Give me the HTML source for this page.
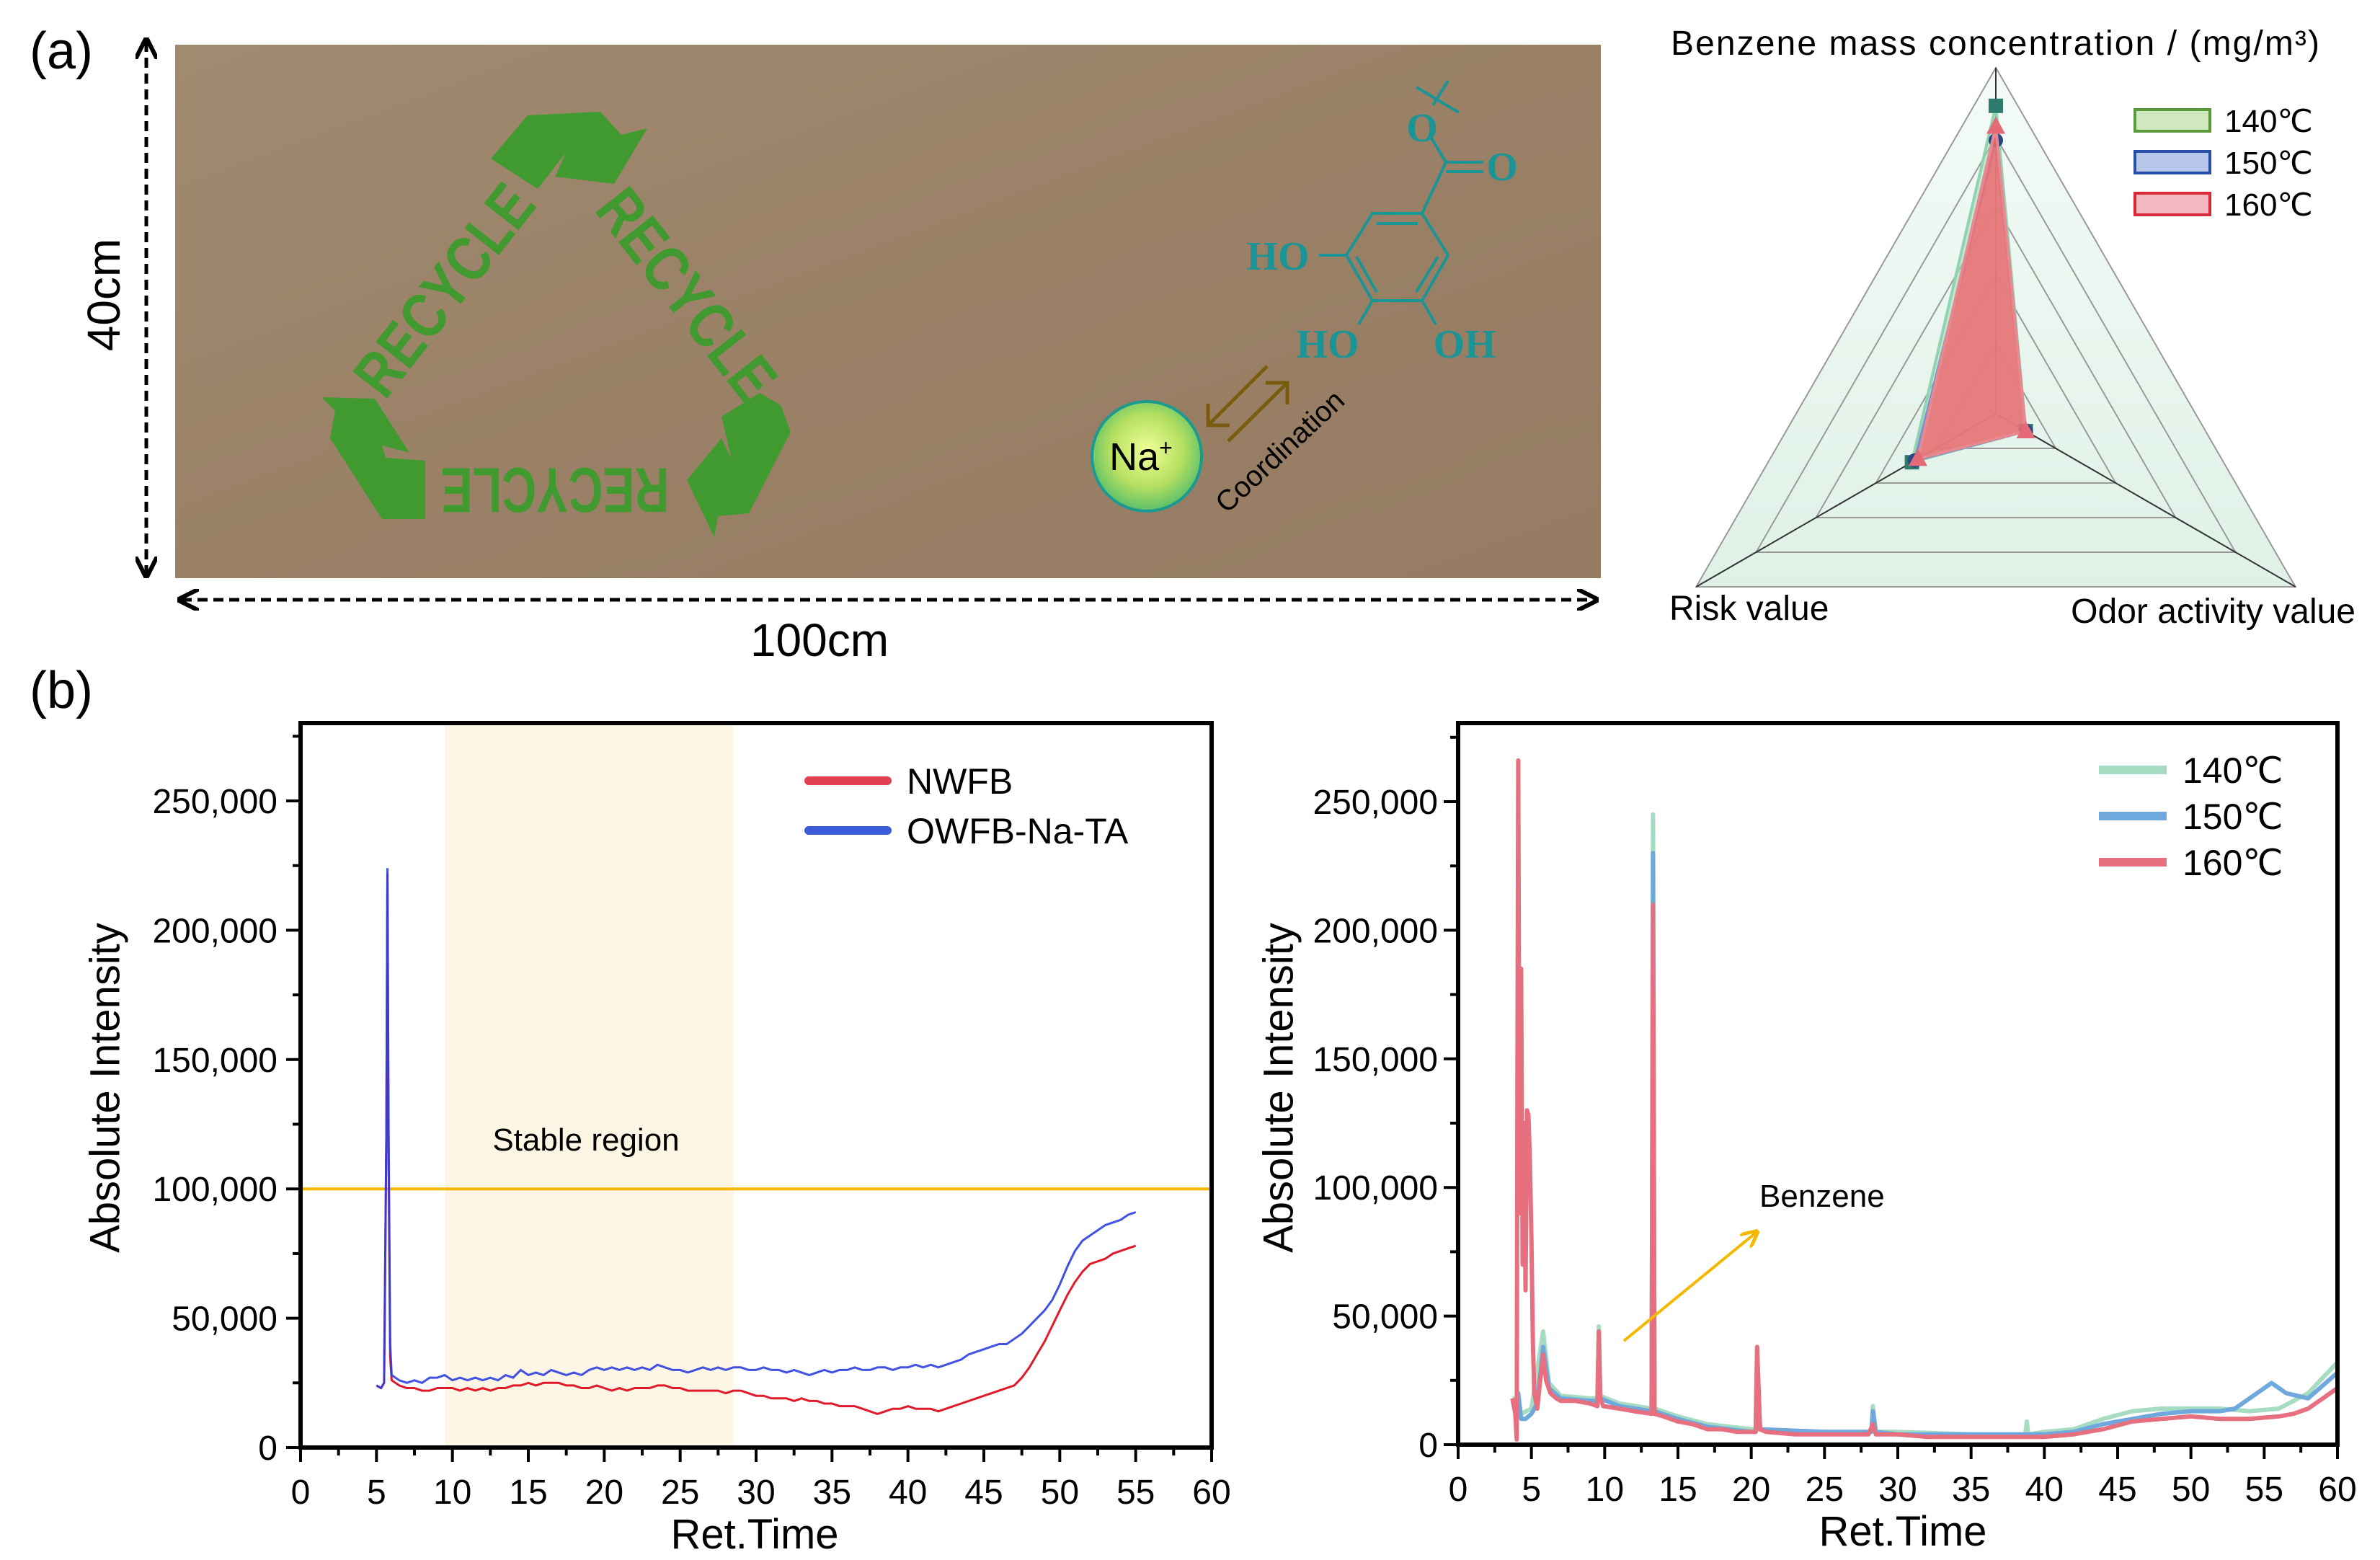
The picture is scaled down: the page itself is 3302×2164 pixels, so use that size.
<!DOCTYPE html>
<html><head><meta charset="utf-8"><title>Figure</title>
<style>
html,body{margin:0;padding:0;background:#fff;}
svg{display:block;font-family:"Liberation Sans",Arial,sans-serif;}
</style></head>
<body>
<svg id="fig" xmlns="http://www.w3.org/2000/svg" width="3302" height="2164" viewBox="0 0 3302 2164">
<defs>
<linearGradient id="paper" x1="0" y1="0" x2="1" y2="1">
<stop offset="0" stop-color="#a08a70"/><stop offset="0.5" stop-color="#9a8166"/><stop offset="1" stop-color="#957c62"/>
</linearGradient>
<radialGradient id="na" cx="0.5" cy="0.45" r="0.55">
<stop offset="0" stop-color="#f2ff9a"/><stop offset="0.6" stop-color="#b5e060"/><stop offset="1" stop-color="#5bbf6a"/>
</radialGradient>
<linearGradient id="radarbg" x1="0" y1="0" x2="0" y2="1">
<stop offset="0" stop-color="#f4fbf7"/><stop offset="1" stop-color="#dff1e7"/>
</linearGradient>
<marker id="ah" viewBox="0 0 10 10" refX="8" refY="5" markerWidth="6" markerHeight="6" orient="auto-start-reverse">
<path d="M0,0 L10,5 L0,10" fill="none" stroke="#000" stroke-width="2"/></marker>
<marker id="ahy" viewBox="0 0 10 10" refX="8" refY="5" markerWidth="6" markerHeight="6" orient="auto">
<path d="M0,0 L10,5 L0,10" fill="none" stroke="#f5b800" stroke-width="2"/></marker>
</defs>

<text x="85" y="95" font-size="72" text-anchor="middle">(a)</text>
<text x="85" y="982" font-size="72" text-anchor="middle">(b)</text>

<g>
<rect x="243" y="62" width="1978" height="740" fill="url(#paper)"/>
<g fill="#409a30">
<polygon points="681,220 732,160 833,155 862,187 898,178 852,255 770,245 785,212 746,262"/>
<polygon points="446,551 520,553 568,628 530,618 535,635 590,639 590,720 530,720 458,608 465,570"/>
<polygon points="1001,578 1054,545 1083,562 1097,599 1039,712 996,716 991,745 953,666 1001,608 1015,637"/>
<text x="616" y="402" font-size="88" font-weight="bold" text-anchor="middle" dominant-baseline="central" textLength="344" lengthAdjust="spacingAndGlyphs" transform="rotate(-52 616 402)">RECYCLE</text>
<text x="953" y="408" font-size="88" font-weight="bold" text-anchor="middle" dominant-baseline="central" textLength="344" lengthAdjust="spacingAndGlyphs" transform="rotate(52 953 408)">RECYCLE</text>
<text x="770" y="680" font-size="88" font-weight="bold" text-anchor="middle" dominant-baseline="central" textLength="317" lengthAdjust="spacingAndGlyphs" transform="rotate(180 770 680)">RECYCLE</text>
</g>
<g stroke="#1a9494" stroke-width="4" fill="none">
<polygon points="1904,296 1973,296 2009,354 1973,417 1904,417 1868,354"/>
<line x1="1910" y1="310" x2="1967" y2="310"/>
<line x1="1995" y1="356" x2="1965" y2="405"/>
<line x1="1882" y1="356" x2="1910" y2="405"/>
<line x1="1973" y1="296" x2="2006" y2="225"/>
<line x1="2006" y1="225" x2="2058" y2="225"/><line x1="2006" y1="238" x2="2058" y2="238"/>
<line x1="2006" y1="225" x2="1985" y2="190"/>
<line x1="1868" y1="354" x2="1830" y2="354"/>
<line x1="1904" y1="417" x2="1885" y2="450"/>
<line x1="1973" y1="417" x2="1992" y2="450"/>
<line x1="1988" y1="146" x2="2009" y2="112"/><line x1="1965" y1="121" x2="2024" y2="156"/>
</g>
<g fill="#1a9494" font-family="'Liberation Serif',serif" font-weight="bold" font-size="56">
<text x="1773" y="374" text-anchor="middle">HO</text>
<text x="1842" y="496" text-anchor="middle">HO</text>
<text x="2032" y="496" text-anchor="middle">OH</text>
<text x="2084" y="250" text-anchor="middle">O</text>
<text x="1973" y="196" text-anchor="middle">O</text>
</g>
<g stroke="#7a5c10" stroke-width="5" fill="none">
<polyline points="1758,508 1676,590"/><polyline points="1676,560 1676,590 1706,590"/>
<polyline points="1704,612 1786,531"/><polyline points="1756,531 1786,531 1786,561"/>
</g>
<text x="1785" y="636" font-size="40" text-anchor="middle" transform="rotate(-43 1785 636)">Coordination</text>
<circle cx="1591" cy="633" r="76" fill="url(#na)" stroke="#1a9a90" stroke-width="4"/>
<text x="1583" y="652" font-size="54" text-anchor="middle">Na<tspan font-size="32" dy="-20">+</tspan></text>
</g>
<line x1="203" y1="58" x2="203" y2="796" stroke="#000" stroke-width="5" stroke-dasharray="14,8" marker-start="url(#ah)" marker-end="url(#ah)"/>
<line x1="252" y1="832" x2="2212" y2="832" stroke="#000" stroke-width="5" stroke-dasharray="14,8" marker-start="url(#ah)" marker-end="url(#ah)"/>
<text x="144" y="409" font-size="64" text-anchor="middle" dominant-baseline="central" transform="rotate(-90 144 409)">40cm</text>
<text x="1137" y="910" font-size="64" text-anchor="middle">100cm</text>

<g id="radar"></g>
<g id="left"></g>
<g id="right"></g>
</svg>

<script>
// ---------- radar data ----------
const radarAxes = ["Benzene mass concentration / (mg/m\u00B3)", "Risk value", "Odor activity value"];
const radarSeriesNames = ["140\u2103", "150\u2103", "160\u2103"];
const radar140 = [0.89, 0.28, 0.10];
const radar150 = [0.79, 0.27, 0.10];
const radar160 = [0.83, 0.26, 0.10];

// ---------- left chromatogram data (values in thousands) ----------
const leftSeriesNames = ["NWFB", "OWFB-Na-TA"];
const leftTimePrefix = [5, 5.3, 5.5, 5.65, 5.72, 5.8, 5.9];
const nwfbPrefix = [24, 23, 25, 120, 222, 110, 35];
const owfbPrefix = [24, 23, 25, 120, 224, 120, 40];
const nwfb = [26,24,23,23,22,22,23,23,23,22, 23,22,23,22,23,23,24,24,25,24, 25,25,25,24,24,23,23,24,23,22,
 23,22,23,23,23,24,24,23,23,22, 22,22,22,22,21,22,22,21,20,20, 19,19,19,18,19,18,18,17,17,16,
 16,16,15,14,13,14,15,15,16,15, 15,15,14,15,16,17,18,19,20,21, 22,23,24,27,31,36,41,47,53,59,
 64,68,71,72,73,75,76,77,78];
const owfb = [28,26,25,26,25,27,27,28,26,27, 26,27,26,27,26,28,27,30,28,29, 28,30,29,28,29,28,30,31,30,31,
 30,31,30,31,30,32,31,30,30,29, 30,31,30,31,30,31,31,30,30,31, 30,30,29,30,29,28,29,30,29,30,
 30,31,30,30,31,31,30,31,31,32, 31,32,31,32,33,34,36,37,38,39, 40,40,42,44,47,50,53,57,63,70,
 76,80,82,84,86,87,88,90,91];
const stableRegion = [9.5, 28.5];
const thresholdLine = 100;
const xTickLabels = ["0","5","10","15","20","25","30","35","40","45","50","55","60"];
const yTickLabels = ["0","50,000","100,000","150,000","200,000","250,000"];

// ---------- right chromatogram data ([time, thousands]) ----------
const rightSeriesNames = ["140\u2103", "150\u2103", "160\u2103"];
const s140 = [[3.7,18],[4.1,18],[4.3,12],[5.0,14],[5.8,44],[6.2,24],[7,19],[9,18],[9.5,18],[9.6,46],[9.7,19],[11,16],[13.2,14],[13.3,245],[13.4,14],[15,11],[17,8],[20,6],[25,5],[28.2,5],[28.3,15],[28.5,5],[30,5],[35,4],[38.7,4],[38.8,9],[38.9,4],[40,5],[42,6],[44,10],[46,13],[48,14],[50,14],[52,14],[54,13],[56,14],[58,20],[60,32]];
const s150 = [[3.7,17],[4.0,14],[4.1,20],[4.3,10],[4.6,10],[5.0,12],[5.4,16],[5.8,38],[6.2,22],[7,18],[9,17],[9.5,17],[9.6,44],[9.7,18],[11,15],[13.2,13],[13.3,230],[13.4,13],[15,10],[17,7],[20,5],[20.3,5],[20.4,36],[20.6,6],[25,5],[28.2,5],[28.3,13],[28.5,5],[30,4],[35,4],[40,4],[42,5],[44,8],[46,10],[48,12],[50,13],[52,13],[53,14],[54,18],[55.5,24],[56.5,20],[58,18],[60,28]];
const s160 = [[3.7,18],[3.9,12],[4.0,2],[4.05,150],[4.1,266],[4.2,90],[4.3,185],[4.4,70],[4.5,125],[4.6,60],[4.7,130],[4.8,128],[4.9,110],[5.0,80],[5.1,40],[5.2,20],[5.4,14],[5.6,25],[5.8,35],[6.0,25],[6.3,20],[6.7,18],[7,17],[8,17],[9,16],[9.5,15],[9.6,44],[9.7,18],[9.9,15],[11,14],[12,13],[13.2,12],[13.3,210],[13.4,12],[14,11],[15,9],[16,8],[17,6],[18,6],[19,5],[20,5],[20.3,5],[20.4,38],[20.6,6],[21,5],[23,4],[25,4],[28,4],[28.3,8],[28.5,4],[30,4],[32,3],[35,3],[38,3],[40,3],[42,4],[44,6],[46,9],[48,10],[50,11],[52,10],[54,10],[56,11],[57,12],[58,14],[59,18],[60,22]];

const NS = "http://www.w3.org/2000/svg";
function mk(parent, tag, attrs, text) {
  const e = document.createElementNS(NS, tag);
  for (const k in attrs) e.setAttribute(k, attrs[k]);
  if (text !== undefined) e.textContent = text;
  parent.appendChild(e);
  return e;
}

// ---------- radar ----------
(function () {
  const g = document.getElementById('radar');
  const cx = 2769, cy = 574, R = 480;
  const ang = [-90, 150, 30].map(a => a * Math.PI / 180);
  const pt = (i, v) => [cx + R * v * Math.cos(ang[i]), cy + R * v * Math.sin(ang[i])];
  const tri = v => [0, 1, 2].map(i => pt(i, v).join(',')).join(' ');
  let e = mk(g, 'polygon', { points: tri(1), fill: 'url(#radarbg)', stroke: '#999', 'stroke-width': 2 });
  
  
  for (let k = 1; k <= 4; k++) {
    e = mk(g, 'polygon', { points: tri(k / 5), fill: 'none', stroke: '#9a9a9a', 'stroke-width': 2 });
    
    
  }
  for (let i = 0; i < 3; i++) {
    const p = pt(i, 1);
    e = mk(g, 'line', { x1: cx, y1: cy, x2: p[0], y2: p[1], stroke: '#333', 'stroke-width': 2 });
    
    
  }
  const series = [
    { d: radar140, fill: 'rgba(160,220,190,0.55)', stroke: '#8fd3b2', mfill: '#2f7b6c', shape: 'sq' },
    { d: radar150, fill: 'rgba(150,170,220,0.4)', stroke: '#7c8fd0', mfill: '#244a86', shape: 'ci' },
    { d: radar160, fill: 'rgba(240,110,112,0.85)', stroke: '#e68a90', mfill: '#e56a78', shape: 'tr' }
  ];
  series.forEach((s, si) => {
    const pts = s.d.map((v, i) => pt(i, v));
    e = mk(g, 'polygon', { points: pts.map(p => p.join(',')).join(' '), fill: s.fill, stroke: s.stroke, 'stroke-width': 4 });
    
    
    pts.forEach(p => {
      let m;
      if (s.shape === 'sq') m = mk(g, 'rect', { x: p[0] - 10, y: p[1] - 10, width: 20, height: 20, fill: s.mfill });
      else if (s.shape === 'ci') m = mk(g, 'circle', { cx: p[0], cy: p[1], r: 10, fill: s.mfill });
      else m = mk(g, 'polygon', { points: `${p[0]},${p[1] - 14} ${p[0] - 13},${p[1] + 10} ${p[0] + 13},${p[1] + 10}`, fill: s.mfill });
      
      
    });
  });
  e = mk(g, 'text', { x: 2768, y: 76, 'font-size': 48, 'text-anchor': 'middle', textLength: 900, lengthAdjust: 'spacing' }, radarAxes[0]);
  
  
  e = mk(g, 'text', { x: 2316, y: 860, 'font-size': 48 }, radarAxes[1]);
  
  
  e = mk(g, 'text', { x: 3268, y: 864, 'font-size': 48, 'text-anchor': 'end' }, radarAxes[2]);
  
  
  const lf = ['#cfe8bf', '#b7c8ea', '#f2b8c0'], ls = ['#5a9a3a', '#2a4fa8', '#d8283a'];
  radarSeriesNames.forEach((n, i) => {
    const y = 167 + i * 58;
    e = mk(g, 'rect', { x: 2962, y: y - 15, width: 104, height: 30, fill: lf[i], stroke: ls[i], 'stroke-width': 4 });
    
    
    e = mk(g, 'text', { x: 3086, y: y + 16, 'font-size': 44 }, n);
    
    
  });
})();

// ---------- generic axes ----------
function drawAxes(g, X0, X1, Y0, Ytop, sx, sy, labelRight) {
  let e;
  for (let t = 0; t <= 60; t += 2.5) {
    const x = sx(t), major = (t % 5 === 0);
    e = mk(g, 'line', { x1: x, y1: Y0, x2: x, y2: Y0 + (major ? 20 : 11), stroke: '#000', 'stroke-width': 4 });
    
    
  }
  xTickLabels.forEach((l, i) => {
    e = mk(g, 'text', { x: sx(i * 5), y: Y0 + 78, 'font-size': 48, 'text-anchor': 'middle' }, l);
    
    
  });
  for (let v = 0; v <= 275; v += 25) {
    const y = sy(v), major = (v % 50 === 0);
    e = mk(g, 'line', { x1: X0, y1: y, x2: X0 - (major ? 20 : 11), y2: y, stroke: '#000', 'stroke-width': 4 });
    
    
  }
  yTickLabels.forEach((l, i) => {
    e = mk(g, 'text', { x: labelRight, y: sy(i * 50) + 17, 'font-size': 48, 'text-anchor': 'end' }, l);
    
    
  });
  e = mk(g, 'rect', { x: X0, y: Ytop, width: X1 - X0, height: Y0 - Ytop, fill: 'none', stroke: '#000', 'stroke-width': 6 });
  
  
}
function linePath(pts) { return 'M' + pts.map(p => p[0].toFixed(1) + ',' + p[1].toFixed(1)).join('L'); }

// ---------- left chart ----------
(function () {
  const g = document.getElementById('left');
  const X0 = 417, X1 = 1681, Y0 = 2008, Ytop = 1003;
  const sx = t => X0 + (X1 - X0) * t / 60;
  const sy = v => Y0 - (Y0 - 1111) * v / 250;
  let e = mk(g, 'rect', { x: sx(stableRegion[0]), y: Ytop, width: sx(stableRegion[1]) - sx(stableRegion[0]), height: Y0 - Ytop, fill: '#fdf6e4' });
  
  
  e = mk(g, 'text', { x: 813, y: 1596, 'font-size': 44, 'text-anchor': 'middle' }, 'Stable region');
  
  
  e = mk(g, 'line', { x1: X0, y1: sy(thresholdLine), x2: X1, y2: sy(thresholdLine), stroke: '#f5b800', 'stroke-width': 4 });
  
  
  const times = leftTimePrefix.slice();
  for (let t = 6; t <= 55.001; t += 0.5) times.push(t);
  const redV = nwfbPrefix.concat(nwfb), blueV = owfbPrefix.concat(owfb);
  e = mk(g, 'path', { d: linePath(times.map((t, i) => [sx(t), sy(redV[i])])), fill: 'none', stroke: '#e01a2a', 'stroke-width': 3 });
  
  
  e = mk(g, 'path', { d: linePath(times.map((t, i) => [sx(t), sy(blueV[i])])), fill: 'none', stroke: '#2b3fe0', 'stroke-width': 3, 'stroke-opacity': 0.9 });
  
  
  drawAxes(g, X0, X1, Y0, Ytop, sx, sy, 385);
  const cols = ['#e04050', '#3a5ad8'];
  leftSeriesNames.forEach((n, i) => {
    const y = 1083 + i * 69;
    e = mk(g, 'line', { x1: 1122, y1: y, x2: 1231, y2: y, stroke: cols[i], 'stroke-width': 12, 'stroke-linecap': 'round' });
    
    
    e = mk(g, 'text', { x: 1258, y: y + 18, 'font-size': 50 }, n);
    
    
  });
  e = mk(g, 'text', { x: 1047, y: 2148, 'font-size': 58, 'text-anchor': 'middle' }, 'Ret.Time');
  
  
  e = mk(g, 'text', { x: 146, y: 1509, 'font-size': 58, 'text-anchor': 'middle', 'dominant-baseline': 'central', transform: 'rotate(-90 146 1509)' }, 'Absolute Intensity');
  
  
})();

// ---------- right chart ----------
(function () {
  const g = document.getElementById('right');
  const X0 = 2023, X1 = 3243, Y0 = 2004, Ytop = 1003;
  const sx = t => X0 + (X1 - X0) * t / 60;
  const sy = v => Y0 - (Y0 - 1112) * v / 250;
  const ser = [[s140, '#a6dcc2', 'series-140c'], [s150, '#6ea8dc', 'series-150c'], [s160, '#e66f80', 'series-160c']];
  ser.forEach(s => {
    const e = mk(g, 'path', { d: linePath(s[0].map(p => [sx(p[0]), sy(p[1])])), fill: 'none', stroke: s[1], 'stroke-width': 6, 'stroke-linejoin': 'round' });
    
    
  });
  drawAxes(g, X0, X1, Y0, Ytop, sx, sy, 1995);
  let e = mk(g, 'line', { x1: 2253, y1: 1860, x2: 2436, y2: 1710, stroke: '#f5b800', 'stroke-width': 4, 'marker-end': 'url(#ahy)' });
  
  
  e = mk(g, 'text', { x: 2441, y: 1674, 'font-size': 44 }, 'Benzene');
  
  
  const cols = ['#a6dcc2', '#6ea8dc', '#e66f80'];
  rightSeriesNames.forEach((n, i) => {
    const y = 1068 + i * 64;
    e = mk(g, 'line', { x1: 2912, y1: y, x2: 3006, y2: y, stroke: cols[i], 'stroke-width': 12 });
    
    
    e = mk(g, 'text', { x: 3028, y: y + 18, 'font-size': 50 }, n);
    
    
  });
  e = mk(g, 'text', { x: 2640, y: 2144, 'font-size': 58, 'text-anchor': 'middle' }, 'Ret.Time');
  
  
  e = mk(g, 'text', { x: 1774, y: 1509, 'font-size': 58, 'text-anchor': 'middle', 'dominant-baseline': 'central', transform: 'rotate(-90 1774 1509)' }, 'Absolute Intensity');
  
  
})();
</script>
</body></html>
